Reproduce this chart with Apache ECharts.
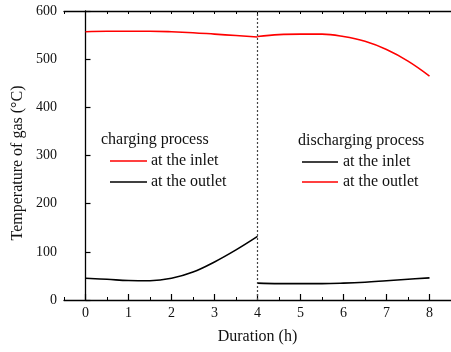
<!DOCTYPE html>
<html>
<head>
<meta charset="utf-8">
<title>Temperature of gas</title>
<script src="https://cdn.jsdelivr.net/npm/echarts@6/dist/echarts.min.js"></script>
<style>
  html, body { margin: 0; padding: 0; background: #fff; }
  #chart { width: 451px; height: 352px; }
</style>
</head>
<body>
<div id="chart"></div>
<script>
// Duration (h) and gas temperatures (°C)
var chargeHours = [0, 0.5, 1, 1.5, 2, 2.5, 3, 3.5, 4];
var dischargeHours = [4, 4.5, 5, 5.5, 6, 6.5, 7, 7.5, 8];

var chargeInlet = [557, 558, 558, 558, 557, 555, 552, 549, 546];
var chargeOutlet = [45, 43, 40.5, 40, 45, 58, 79, 104, 132];
var dischargeInlet = [35, 34, 34, 34, 35, 37, 40, 43, 46];
var dischargeOutlet = [547, 551, 552, 552, 547, 537, 520, 496, 465];

var xTickValues = [0, 1, 2, 3, 4, 5, 6, 7, 8];
var phaseSwitch = 4;

function pairs(xs, ys) {
  return xs.map(function (x, i) { return [x, ys[i]]; });
}

var FONT = "'Liberation Serif', 'Times New Roman', serif";
var RED = '#ff0000';
var BLACK = '#000000';

var chart = echarts.init(document.getElementById('chart'), null, { renderer: 'canvas' });

var baseX = { type: 'value', min: -0.5, max: 8.5, gridIndex: 0 };

chart.setOption({
  animation: false,
  backgroundColor: '#ffffff',
  textStyle: { fontFamily: FONT },
  grid: { left: 64, top: 11, right: -2, bottom: 52, containLabel: false },
  xAxis: [
    Object.assign({}, baseX, {
      position: 'bottom',
      name: 'Duration (h)',
      nameLocation: 'middle',
      nameGap: 29,
      nameTextStyle: { fontFamily: FONT, fontSize: 16, color: '#111' },
      axisLine: { show: true, lineStyle: { color: '#000', width: 1.3 } },
      axisTick: { show: true, inside: true, length: 6, customValues: xTickValues, lineStyle: { color: '#000', width: 1.2 } },
      axisLabel: { show: true, customValues: xTickValues, margin: 6, fontFamily: FONT, fontSize: 14, color: '#111' },
      splitLine: { show: false }
    }),
    Object.assign({}, baseX, {
      position: 'bottom',
      interval: 0.5,
      axisLine: { show: false },
      axisTick: { show: true, inside: true, length: 3, lineStyle: { color: '#000', width: 1 } },
      axisLabel: { show: false },
      splitLine: { show: false }
    }),
    Object.assign({}, baseX, {
      position: 'top',
      interval: 0.5,
      axisLine: { show: true, lineStyle: { color: '#000', width: 1.3 } },
      axisTick: { show: true, inside: true, length: 3, lineStyle: { color: '#000', width: 1 } },
      axisLabel: { show: false },
      splitLine: { show: false }
    })
  ],
  yAxis: {
    type: 'value',
    min: 0,
    max: 600,
    interval: 100,
    axisLine: { show: true, lineStyle: { color: '#000', width: 1.3 } },
    axisTick: { show: true, inside: true, length: 5, lineStyle: { color: '#000', width: 1.2 } },
    axisLabel: { margin: 7, fontFamily: FONT, fontSize: 14, color: '#111' },
    splitLine: { show: false }
  },
  series: [
    {
      name: 'charging inlet',
      type: 'line',
      xAxisIndex: 0,
      data: pairs(chargeHours, chargeInlet),
      smooth: 0.4,
      showSymbol: false,
      lineStyle: { color: RED, width: 1.6 },
      markLine: {
        silent: true,
        symbol: 'none',
        label: { show: false },
        lineStyle: { color: '#444', type: [2, 2], width: 1.2 },
        data: [{ xAxis: phaseSwitch }]
      }
    },
    {
      name: 'charging outlet',
      type: 'line',
      xAxisIndex: 0,
      data: pairs(chargeHours, chargeOutlet),
      smooth: 0.4,
      showSymbol: false,
      lineStyle: { color: BLACK, width: 1.6 }
    },
    {
      name: 'discharging inlet',
      type: 'line',
      xAxisIndex: 0,
      data: pairs(dischargeHours, dischargeInlet),
      smooth: 0.4,
      showSymbol: false,
      lineStyle: { color: BLACK, width: 1.6 }
    },
    {
      name: 'discharging outlet',
      type: 'line',
      xAxisIndex: 0,
      data: pairs(dischargeHours, dischargeOutlet),
      smooth: 0.4,
      showSymbol: false,
      lineStyle: { color: RED, width: 1.6 }
    }
  ],
  graphic: [
    // vertical axis title
    {
      type: 'text',
      x: 18,
      y: 163,
      rotation: Math.PI / 2,
      style: {
        text: 'Temperature of gas (°C)',
        font: '16px ' + FONT,
        fill: '#111',
        align: 'center',
        verticalAlign: 'middle'
      }
    },
    // charging key
    { type: 'text', x: 101, y: 140, style: { text: 'charging process', font: '16px ' + FONT, fill: '#111', verticalAlign: 'middle' } },
    { type: 'line', shape: { x1: 110, y1: 161, x2: 147, y2: 161 }, style: { stroke: RED, lineWidth: 1.6 } },
    { type: 'text', x: 151, y: 161, style: { text: 'at the inlet', font: '16px ' + FONT, fill: '#111', verticalAlign: 'middle' } },
    { type: 'line', shape: { x1: 110, y1: 182, x2: 147, y2: 182 }, style: { stroke: BLACK, lineWidth: 1.6 } },
    { type: 'text', x: 151, y: 182, style: { text: 'at the outlet', font: '16px ' + FONT, fill: '#111', verticalAlign: 'middle' } },
    // discharging key
    { type: 'text', x: 298, y: 141, style: { text: 'discharging process', font: '16px ' + FONT, fill: '#111', verticalAlign: 'middle' } },
    { type: 'line', shape: { x1: 302, y1: 162, x2: 338, y2: 162 }, style: { stroke: BLACK, lineWidth: 1.6 } },
    { type: 'text', x: 343, y: 162, style: { text: 'at the inlet', font: '16px ' + FONT, fill: '#111', verticalAlign: 'middle' } },
    { type: 'line', shape: { x1: 302, y1: 182, x2: 338, y2: 182 }, style: { stroke: RED, lineWidth: 1.6 } },
    { type: 'text', x: 343, y: 182, style: { text: 'at the outlet', font: '16px ' + FONT, fill: '#111', verticalAlign: 'middle' } }
  ]
});
</script>
</body>
</html>
